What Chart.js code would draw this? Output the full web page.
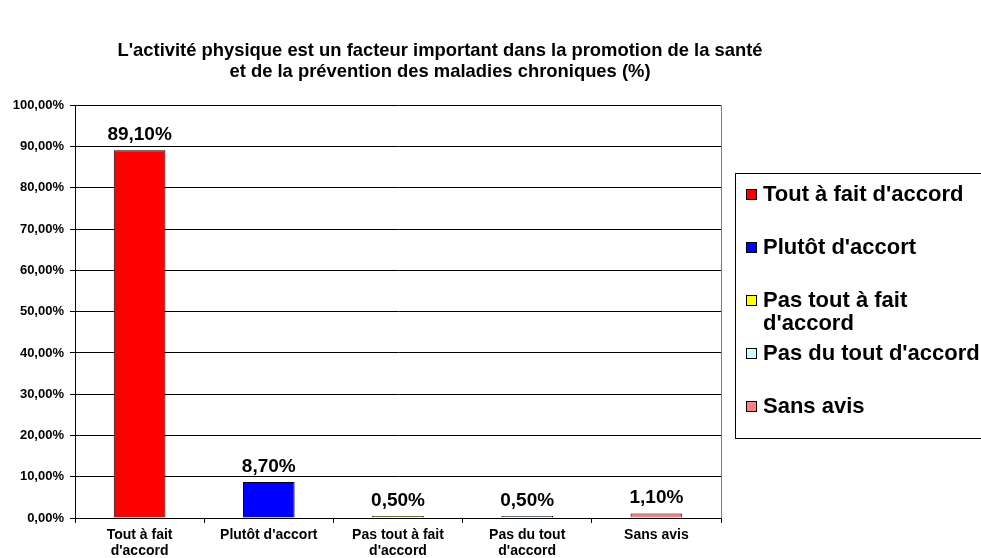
<!DOCTYPE html>
<html>
<head>
<meta charset="utf-8">
<script src="https://cdn.jsdelivr.net/npm/chart.js@4"></script>
<style>
  html, body { margin: 0; padding: 0; background: #fff; }
  #wrap { width: 981px; height: 558px; }
</style>
</head>
<body>
<div id="wrap"><canvas id="chart" width="981" height="558"></canvas></div>
<script>
// categories and values (percent)
const categories = ['Tout à fait d\'accord', 'Plutôt d\'accort', 'Pas tout à fait d\'accord', 'Pas du tout d\'accord', 'Sans avis'];
const axisLabels = [['Tout à fait', 'd\'accord'], ['Plutôt d\'accort'], ['Pas tout à fait', 'd\'accord'], ['Pas du tout', 'd\'accord'], ['Sans avis']];
const legendLabels = [['Tout à fait d\'accord'], ['Plutôt d\'accort'], ['Pas tout à fait', 'd\'accord'], ['Pas du tout d\'accord'], ['Sans avis']];
const values = [89.1, 8.7, 0.5, 0.5, 1.1];
const colors = ['#FF0000', '#0000FF', '#FFFF00', '#CCFFFF', '#FF8080'];
const titleLines = ['L\'activité physique est un facteur important dans la promotion de la santé',
  'et de la prévention des maladies chroniques (%)'];

const FONT = 'Arial, "Liberation Sans", sans-serif';
const fmt = v => v.toFixed(2).replace('.', ',') + '%';

// value labels over bars + plot frame
const valueLabels = {
  id: 'valueLabels',
  afterDatasetsDraw(chart) {
    const ctx = chart.ctx;
    const meta = chart.getDatasetMeta(0);
    ctx.save();
    ctx.font = 'bold 19px ' + FONT;
    ctx.fillStyle = '#000';
    ctx.textAlign = 'center';
    ctx.textBaseline = 'alphabetic';
    meta.data.forEach((bar, i) => {
      ctx.fillText(fmt(values[i]), bar.x, bar.y - 10);
    });
    // right frame of plot area
    const a = chart.chartArea;
    ctx.strokeStyle = '#808080';
    ctx.lineWidth = 1;
    ctx.beginPath();
    ctx.moveTo(a.right + 0.5, a.top);
    ctx.lineTo(a.right + 0.5, a.bottom);
    ctx.stroke();
    ctx.restore();
  }
};

// boxed legend on the right
const boxLegend = {
  id: 'boxLegend',
  afterDraw(chart) {
    const ctx = chart.ctx;
    const left = 735, top = 173, bottom = 438;
    ctx.save();
    ctx.strokeStyle = '#000';
    ctx.lineWidth = 1;
    ctx.strokeRect(left + 0.5, top + 0.5, 300, bottom - top);
    ctx.font = 'bold 22px ' + FONT;
    ctx.textBaseline = 'middle';
    ctx.textAlign = 'left';
    legendLabels.forEach((lines, i) => {
      const y = 194 + i * 53;
      ctx.fillStyle = colors[i];
      ctx.fillRect(746, y - 5, 10, 10);
      ctx.strokeStyle = '#000';
      ctx.strokeRect(746.5, y - 4.5, 10, 10);
      ctx.fillStyle = '#000';
      lines.forEach((t, j) => ctx.fillText(t, 763, y + 1 + j * 23));
    });
    ctx.restore();
  }
};

new Chart(document.getElementById('chart'), {
  type: 'bar',
  data: {
    labels: axisLabels,
    datasets: [{
      label: 'Réponses',
      data: values,
      backgroundColor: colors,
      borderColor: '#000',
      borderWidth: 1,
      categoryPercentage: 1,
      barPercentage: 0.4
    }]
  },
  options: {
    responsive: false,
    animation: false,
    layout: { padding: { left: 0, right: 101, top: 0, bottom: 0 } },
    plugins: {
      legend: { display: false },
      tooltip: { enabled: false },
      title: {
        display: true,
        text: titleLines,
        color: '#000',
        font: { family: FONT, size: 18.4, weight: 'bold', lineHeight: 1.15 },
        padding: { top: 40, bottom: 23 }
      }
    },
    scales: {
      x: {
        grid: { offset: true, drawOnChartArea: false, color: '#000', tickLength: 5 },
        border: { color: '#000' },
        ticks: { color: '#000', font: { family: FONT, size: 14, weight: 'bold', lineHeight: 1.15 }, padding: 4, maxRotation: 0, autoSkip: false },
        afterFit: s => { s.height = 40; }
      },
      y: {
        min: 0, max: 100,
        ticks: { stepSize: 10, color: '#000', font: { family: FONT, size: 13, weight: 'bold' }, padding: 6, callback: v => fmt(v) },
        grid: { color: '#000', tickLength: 5 },
        border: { color: '#000' },
        afterFit: s => { s.width = 75; }
      },
      pad: {
        position: 'right',
        display: true,
        ticks: { display: false },
        grid: { display: false },
        border: { display: false },
        afterFit: s => { s.width = 159; }
      }
    }
  },
  plugins: [valueLabels, boxLegend]
});
</script>
</body>
</html>
